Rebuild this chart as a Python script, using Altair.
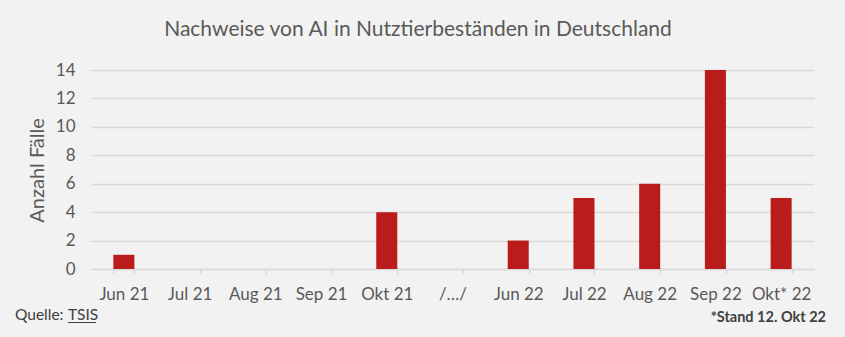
import altair as alt
import pandas as pd

categories = ["Jun 21", "Jul 21", "Aug 21", "Sep 21", "Okt 21", "/…/",
              "Jun 22", "Jul 22", "Aug 22", "Sep 22", "Okt* 22"]
cases = [1, 0, 0, 0, 4, None, 2, 5, 6, 14, 5]
y_ticks = [0, 2, 4, 6, 8, 10, 12, 14]
title_text = "Nachweise von AI in Nutztierbeständen in Deutschland"
y_title = "Anzahl Fälle"
source_label = "Quelle: "
source_link = "TSIS"
note_text = "*Stand 12. Okt 22"

FONT = "Lato"
GREY = "#595959"
GRID = "#d9d9d9"
RED = "#BA1B1B"

df = pd.DataFrame({"Monat": categories, "Faelle": cases})

bars = alt.Chart(df).mark_bar(color=RED).encode(
    x=alt.X("Monat:N", sort=categories,
            scale=alt.Scale(paddingInner=0.68, paddingOuter=0.34),
            axis=alt.Axis(title=None, labelAngle=0, tickBand="extent", grid=False,
                          domainColor=GRID, domainWidth=1.5, tickColor=GRID, tickWidth=1.5,
                          tickSize=5, labelFontSize=17, labelColor=GREY, labelFont=FONT,
                          labelPadding=12)),
    y=alt.Y("Faelle:Q", scale=alt.Scale(domain=[0, 14], nice=False),
            axis=alt.Axis(values=y_ticks, title=y_title, domain=False, ticks=False,
                          gridColor=GRID, gridWidth=1.5, labelFontSize=17, labelColor=GREY,
                          labelFont=FONT, labelPadding=16, titleFont=FONT, titleFontSize=20,
                          titleColor=GREY, titleFontWeight="normal", titleX=-54, titleY=100,
                          titleAngle=270, titleAlign="center", titleBaseline="middle")),
)

one = pd.DataFrame({"t": [title_text]})
title = alt.Chart(one).mark_text(font=FONT, fontSize=21, color=GREY, align="center",
                                 baseline="middle").encode(
    text="t:N", x=alt.value(327), y=alt.value(-40))

src = alt.Chart(pd.DataFrame({"t": [source_label]})).mark_text(
    font=FONT, fontSize=15.5, color="#404040", align="left", baseline="middle").encode(
    text="t:N", x=alt.value(-76), y=alt.value(245))
link = alt.Chart(pd.DataFrame({"t": [source_link]})).mark_text(
    font=FONT, fontSize=15.5, color="#404040", align="left", baseline="middle").encode(
    text="t:N", x=alt.value(-23), y=alt.value(245))
underline = alt.Chart(pd.DataFrame({"t": [source_link]})).mark_rule(
    color="#404040", strokeWidth=1).encode(
    x=alt.value(-23), x2=alt.value(5), y=alt.value(252.5))
note = alt.Chart(pd.DataFrame({"t": [note_text]})).mark_text(
    font=FONT, fontSize=14.5, fontWeight="bold", color="#404040", align="right",
    baseline="middle").encode(text="t:N", x=alt.value(735), y=alt.value(248))

chart = alt.layer(bars, title, src, link, underline, note).properties(
    width=723, height=199,
    autosize=alt.AutoSizeParams(type="none"),
    padding={"left": 91, "top": 70, "right": 31, "bottom": 68},
    background="#f2f2f2",
).configure_view(stroke=None)

chart.save("out.html", embed_options={"renderer": "svg", "actions": False})
